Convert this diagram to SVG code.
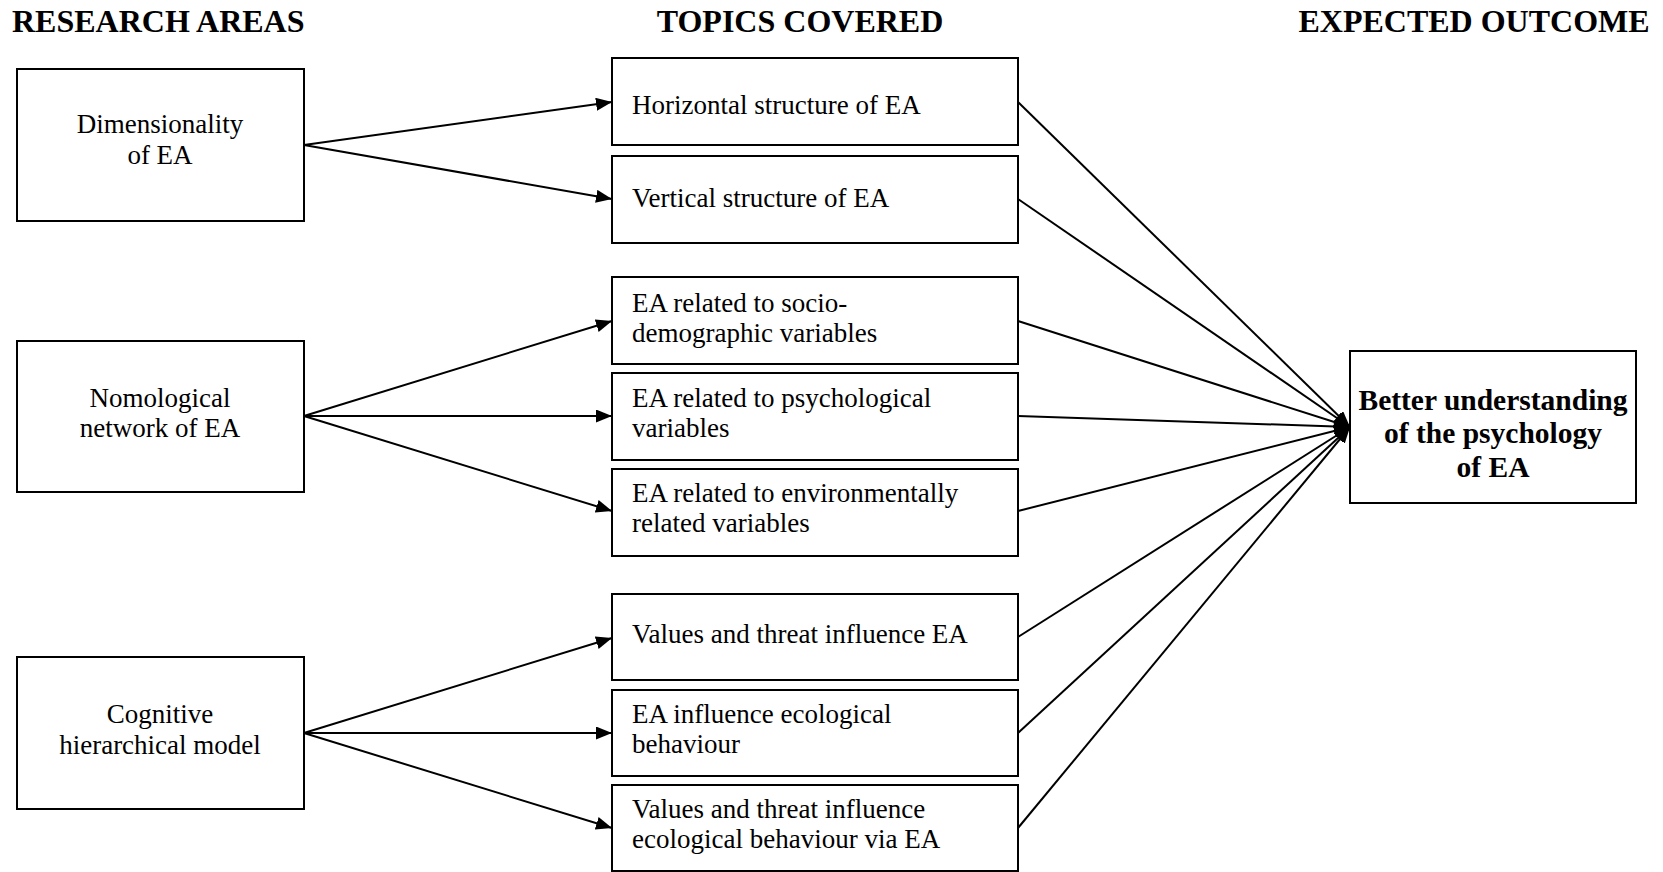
<svg xmlns="http://www.w3.org/2000/svg" width="1663" height="872" viewBox="0 0 1663 872">
  <style>
    .box { fill: #ffffff; stroke: #000000; stroke-width: 2; }
    .txt { font-family: "Liberation Serif", "Times New Roman", serif; font-size: 27px; fill: #000000; }
    .mid { text-anchor: middle; }
    .head { font-family: "Liberation Serif", "Times New Roman", serif; font-size: 32px; font-weight: bold; fill: #000000; }
    .out { font-family: "Liberation Serif", "Times New Roman", serif; font-size: 29.5px; font-weight: bold; fill: #000000; text-anchor: middle; }
    .link { fill: none; stroke: #000000; stroke-width: 2; marker-end: url(#arrow); }
  </style>
  <defs>
    <marker id="arrow" markerUnits="userSpaceOnUse" markerWidth="17" markerHeight="14" refX="16" refY="6.5" orient="auto">
      <path d="M0,0 L16,6.5 L0,13 Z" fill="#000000"/>
    </marker>
  </defs>
  <rect width="1663" height="872" fill="#ffffff"/>

  <!-- column headings -->
  <g id="headings">
    <text class="head" x="12" y="32">RESEARCH AREAS</text>
    <text class="head" x="800" y="32" text-anchor="middle">TOPICS COVERED</text>
    <text class="head" x="1474" y="32" text-anchor="middle">EXPECTED OUTCOME</text>
  </g>

  <!-- connectors -->
  <g id="connectors">
    <line class="link" x1="304" y1="145" x2="612" y2="102"/>
    <line class="link" x1="304" y1="145" x2="612" y2="199"/>
    <line class="link" x1="304" y1="416" x2="612" y2="321"/>
    <line class="link" x1="304" y1="416" x2="612" y2="416"/>
    <line class="link" x1="304" y1="416" x2="612" y2="511"/>
    <line class="link" x1="304" y1="733" x2="612" y2="638"/>
    <line class="link" x1="304" y1="733" x2="612" y2="733"/>
    <line class="link" x1="304" y1="733" x2="612" y2="828"/>
    <line class="link" x1="1018" y1="102" x2="1350" y2="427"/>
    <line class="link" x1="1018" y1="199" x2="1350" y2="427"/>
    <line class="link" x1="1018" y1="321" x2="1350" y2="427"/>
    <line class="link" x1="1018" y1="416" x2="1350" y2="427"/>
    <line class="link" x1="1018" y1="511" x2="1350" y2="427"/>
    <line class="link" x1="1018" y1="637" x2="1350" y2="427"/>
    <line class="link" x1="1018" y1="733" x2="1350" y2="427"/>
    <line class="link" x1="1018" y1="828" x2="1350" y2="427"/>
  </g>

  <!-- research areas -->
  <g id="area-dimensionality">
    <rect class="box" x="17" y="69" width="287" height="152"/>
    <text class="txt mid" x="160" y="133">Dimensionality</text>
    <text class="txt mid" x="160" y="164">of EA</text>
  </g>
  <g id="area-nomological">
    <rect class="box" x="17" y="341" width="287" height="151"/>
    <text class="txt mid" x="160" y="407">Nomological</text>
    <text class="txt mid" x="160" y="437">network of EA</text>
  </g>
  <g id="area-cognitive">
    <rect class="box" x="17" y="657" width="287" height="152"/>
    <text class="txt mid" x="160" y="723">Cognitive</text>
    <text class="txt mid" x="160" y="754">hierarchical model</text>
  </g>

  <!-- topics covered -->
  <g id="topic-horizontal">
    <rect class="box" x="612" y="58" width="406" height="87"/>
    <text class="txt" x="632" y="114">Horizontal structure of EA</text>
  </g>
  <g id="topic-vertical">
    <rect class="box" x="612" y="156" width="406" height="87"/>
    <text class="txt" x="632" y="207">Vertical structure of EA</text>
  </g>
  <g id="topic-socio">
    <rect class="box" x="612" y="277" width="406" height="87"/>
    <text class="txt" x="632" y="312">EA related to socio-</text>
    <text class="txt" x="632" y="342">demographic variables</text>
  </g>
  <g id="topic-psych">
    <rect class="box" x="612" y="373" width="406" height="87"/>
    <text class="txt" x="632" y="407">EA related to psychological</text>
    <text class="txt" x="632" y="437">variables</text>
  </g>
  <g id="topic-env">
    <rect class="box" x="612" y="469" width="406" height="87"/>
    <text class="txt" x="632" y="502">EA related to environmentally</text>
    <text class="txt" x="632" y="532">related variables</text>
  </g>
  <g id="topic-values">
    <rect class="box" x="612" y="594" width="406" height="86"/>
    <text class="txt" x="632" y="643">Values and threat influence EA</text>
  </g>
  <g id="topic-behaviour">
    <rect class="box" x="612" y="690" width="406" height="86"/>
    <text class="txt" x="632" y="723">EA influence ecological</text>
    <text class="txt" x="632" y="753">behaviour</text>
  </g>
  <g id="topic-via">
    <rect class="box" x="612" y="785" width="406" height="86"/>
    <text class="txt" x="632" y="818">Values and threat influence</text>
    <text class="txt" x="632" y="848">ecological behaviour via EA</text>
  </g>

  <!-- expected outcome -->
  <g id="outcome">
    <rect class="box" x="1350" y="351" width="286" height="152"/>
    <text class="out" x="1493" y="410">Better understanding</text>
    <text class="out" x="1493" y="443">of the psychology</text>
    <text class="out" x="1493" y="477">of EA</text>
  </g>
</svg>
